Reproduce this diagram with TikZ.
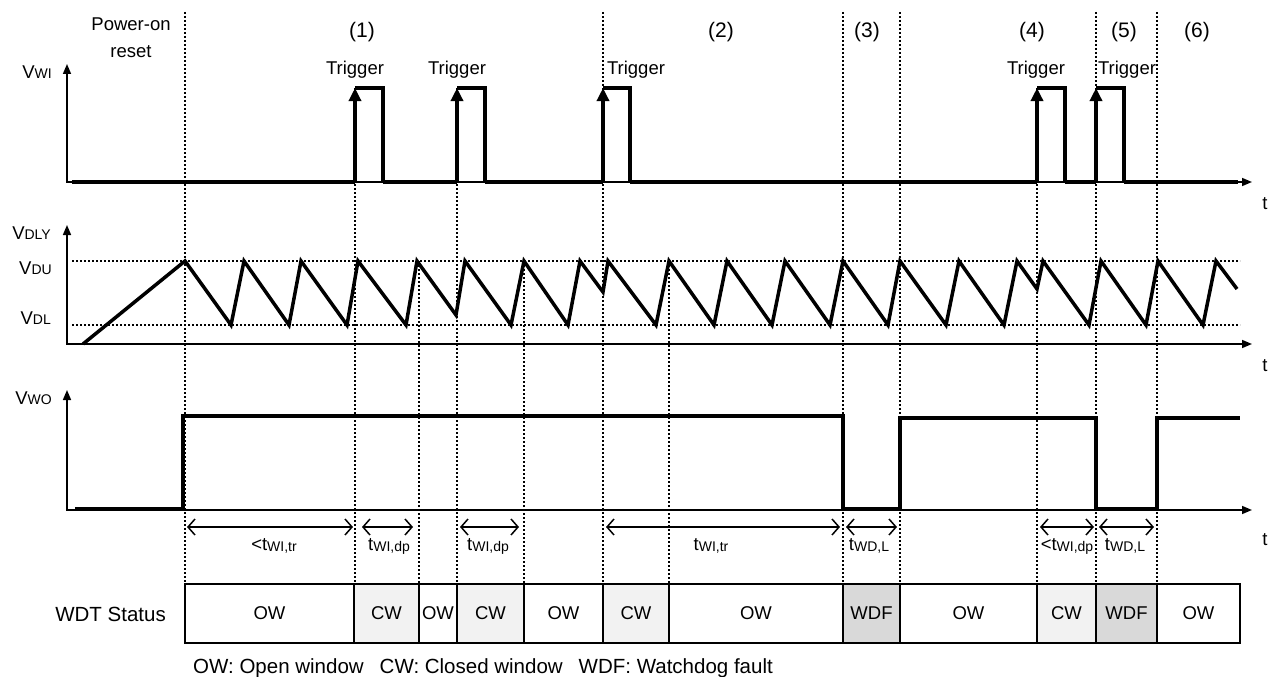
\documentclass[tikz,border=0pt]{standalone}
\usepackage{fontspec}
\setmainfont{Liberation Sans}
\usetikzlibrary{arrows.meta}
\definecolor{cwfill}{gray}{0.95}
\definecolor{wdffill}{gray}{0.85}
\newcommand{\vsig}[2]{#1{\fontsize{14}{14}\selectfont #2}}
\newcommand{\tsub}[2]{#1\raisebox{-1pt}{\fontsize{14}{14}\selectfont #2}}

\begin{document}
\begin{tikzpicture}[
        x=1pt, y=-1pt,
        lbl/.style = {font=\fontsize{18.5}{22}\selectfont, inner sep=0pt},
        biglbl/.style = {font=\fontsize{20.5}{24}\selectfont, inner sep=0pt},
        axis/.style = {line width=1.5pt, {Triangle[length=10pt, width=8pt]}-{Triangle[length=10pt, width=8pt]}},
        wave/.style = {line width=4pt, line join=miter},
        trig/.style = {line width=4pt, -{Triangle[length=13pt, width=12pt]}},
        guide/.style = {line width=1.8pt, dash pattern=on 1.8pt off 2.2pt},
        span/.style = {line width=1.5pt, {Straight Barb[length=7pt, width=16pt]}-{Straight Barb[length=7pt, width=16pt]}},
        status/.style = {draw, line width=2pt}
    ]
        \useasboundingbox (0,0) rectangle (1269,677);

        % time marks
        \foreach \x/\top in {185/12, 355/88, 419/261, 457/88, 524/261, 603/12, 669/261, 843/12, 900/12, 1037/88, 1096/12, 1157/12}
            \draw [guide] (\x,\top) -- (\x,584);

        % phase labels
        \node (por) [lbl, align=center, font=\fontsize{18.5}{27}\selectfont] at (131,38) {Power-on\\reset};
        \foreach \x/\t [count=\i] in {362/(1), 721/(2), 867/(3), 1032/(4), 1124/(5), 1197/(6)}
            \node (ph\i) [lbl, font=\fontsize{21}{24}\selectfont] at (\x,32) {\t};

        % VWI
        \node (vwi) [lbl, anchor=east] at (52,72) {\vsig{V}{WI}};
        \draw [axis] (67,64) -- (67,182) -- (1252,182);
        \node (t1) [lbl] at (1265,204) {t};
        \foreach \x [count=\i] in {355, 457, 636, 1036, 1127}
            \node (trg\i) [lbl] at (\x,70) {Trigger};
        \draw [wave] (72,182) -- (355,182) (383,182) -- (457,182) (485,182) -- (603,182)
            (630,182) -- (1037,182) (1065,182) -- (1096,182) (1124,182) -- (1238,182);
        \foreach \r/\f in {355/383, 457/485, 603/630, 1037/1065, 1096/1124} {
            \draw [trig] (\r,182) -- (\r,88);
            \draw [wave] (\r,88) -- (\f,88) -- (\f,182);
        }

        % VDLY
        \node (vdly) [lbl, anchor=east] at (51,233) {\vsig{V}{DLY}};
        \node (vdu) [lbl, anchor=east] at (52,268) {\vsig{V}{DU}};
        \node (vdl) [lbl, anchor=east] at (51,318) {\vsig{V}{DL}};
        \draw [guide] (72,261) -- (1240,261);
        \draw [guide] (72,325) -- (1240,325);
        \draw [axis] (67,225) -- (67,344) -- (1252,344);
        \node (t2) [lbl] at (1265,366) {t};
        \draw [wave, line width=3.5pt] plot coordinates {(83,344) (185,261) (231,325) (244,261) (289,325) (301,261)
            (347,325) (358,261) (406,325) (417,261) (456,315) (465,261) (511,325) (524,261) (568,325) (580,261)
            (603,292) (608,261) (656,325) (669,261) (714,325) (727,261) (772,325) (785,261) (830,325) (843,261)
            (888,325) (900,261) (946,325) (959,261) (1004,325) (1017,261) (1037,289) (1043,261) (1089,325)
            (1101,261) (1146,325) (1158,261) (1203,325) (1216,261) (1237,289)};

        % VWO
        \node (vwo) [lbl, anchor=east] at (52,398) {\vsig{V}{WO}};
        \draw [axis] (67,390) -- (67,510) -- (1252,510);
        \node (t3) [lbl] at (1265,540) {t};
        \draw [wave] (75,509) -- (183,509) -- (183,416) -- (843,416) -- (843,509) -- (900,509) -- (900,418)
            -- (1096,418) -- (1096,509) -- (1157,509) -- (1157,418) -- (1240,418);

        % durations
        \foreach \a/\b/\m/\t [count=\i] in {187/353/274/{<\tsub{t}{WI,tr}}, 362/413/389/{\tsub{t}{WI,dp}},
            460/519/488/{\tsub{t}{WI,dp}}, 606/840/711/{\tsub{t}{WI,tr}}, 846/897/869/{\tsub{t}{WD,L}},
            1040/1094/1067/{<\tsub{t}{WI,dp}}, 1099/1154/1125/{\tsub{t}{WD,L}}} {
            \draw [span] (\a,527) -- (\b,527);
            \node (dur\i) [lbl] at (\m,546) {\t};
        }

        % WDT status
        \node (wdt) [biglbl, anchor=east] at (166,614) {WDT Status};
        \foreach \a/\b/\t/\c [count=\i] in {185/354/OW/white, 354/419/CW/cwfill, 419/457/OW/white, 457/524/CW/cwfill,
            524/603/OW/white, 603/669/CW/cwfill, 669/843/OW/white, 843/900/WDF/wdffill, 900/1037/OW/white,
            1037/1096/CW/cwfill, 1096/1157/WDF/wdffill, 1157/1240/OW/white}
            \draw [status, fill=\c] (\a,584) rectangle (\b,643) node (st\i) [lbl, midway] {\t};

        \node (legend) [biglbl, anchor=west] at (193,668) {OW: Open window\hspace{16pt}CW: Closed window\hspace{16pt}WDF: Watchdog fault};

    \end{tikzpicture}
\end{document}
